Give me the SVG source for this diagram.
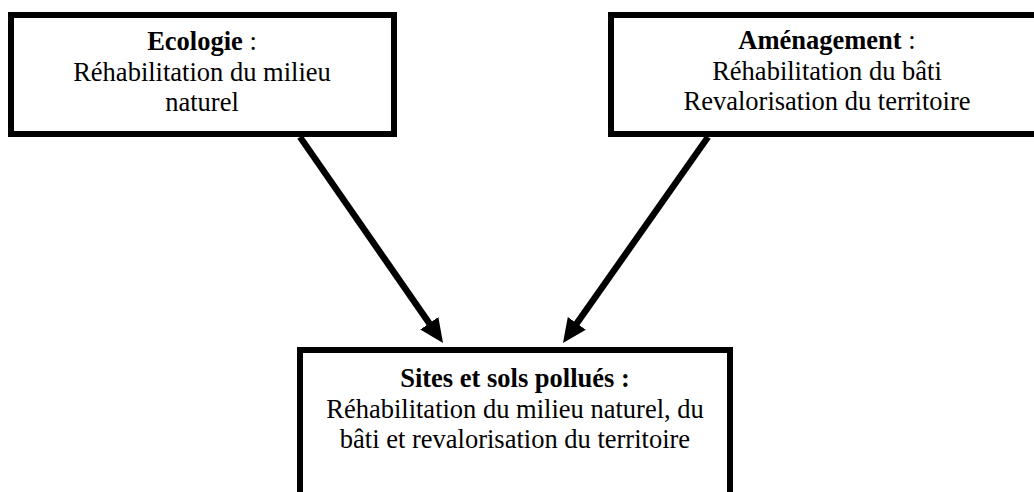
<svg xmlns="http://www.w3.org/2000/svg" width="1034" height="492" viewBox="0 0 1034 492">
  <style>
    .box { fill: #ffffff; stroke: #000000; stroke-width: 6; }
    .txt { font-size: 26.5px; fill: #000000; text-anchor: middle; }
    .b { font-weight: bold; }
    .conn { stroke: #000000; stroke-width: 6.5; fill: none; }
  </style>
  <defs>
    <marker id="head" viewBox="0 0 24 22" refX="4" refY="11" markerWidth="24" markerHeight="22" markerUnits="userSpaceOnUse" orient="auto">
      <path d="M0,0 L24,11 L0,22 z" fill="#000000"/>
    </marker>
  </defs>

  <g font-family="'Liberation Serif', 'Times New Roman', Times, 'DejaVu Serif', serif">
    <g id="ecologie">
      <rect class="box" x="11" y="15" width="383" height="119"/>
      <text class="txt" x="202" y="50"><tspan class="b">Ecologie</tspan> :</text>
      <text class="txt" x="202" y="80.5">Réhabilitation du milieu</text>
      <text class="txt" x="202" y="111">naturel</text>
    </g>

    <g id="amenagement">
      <rect class="box" x="611" y="15" width="431" height="119"/>
      <text class="txt" x="827" y="49"><tspan class="b">Aménagement</tspan> :</text>
      <text class="txt" x="827" y="79.5">Réhabilitation du bâti</text>
      <text class="txt" x="827" y="110">Revalorisation du territoire</text>
    </g>

    <g id="sites">
      <rect class="box" x="300" y="350" width="430" height="200"/>
      <text class="txt b" x="515" y="387">Sites et sols pollués :</text>
      <text class="txt" x="515" y="417.5">Réhabilitation du milieu naturel, du</text>
      <text class="txt" x="515" y="448">bâti et revalorisation du territoire</text>
    </g>
  </g>

  <g id="connectors">
    <line class="conn" x1="300" y1="137" x2="431.6" y2="326.6" marker-end="url(#head)"/>
    <line class="conn" x1="708" y1="137" x2="574.5" y2="326.6" marker-end="url(#head)"/>
  </g>
</svg>
